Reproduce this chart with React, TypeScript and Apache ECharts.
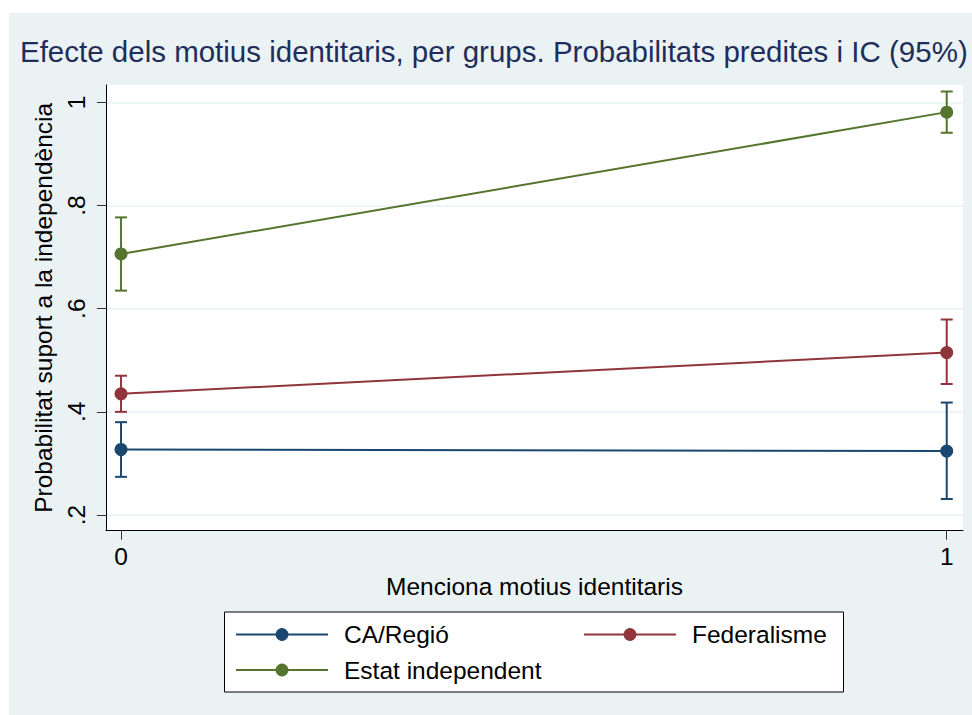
import React, { useEffect, useRef } from "react";
import * as echarts from "echarts";

const xTicks = [0, 1];
const yTicks = [0.2, 0.4, 0.6, 0.8, 1];
const yTickLabels = [".2", ".4", ".6", ".8", "1"];

const groupNames = ["CA/Regió", "Federalisme", "Estat independent"];
const groupColors = ["#1a476f", "#90353b", "#55752f"];
const xValues = [0, 1];
const caMean = [0.327, 0.324];
const caLo = [0.274, 0.231];
const caHi = [0.38, 0.418];
const fedMean = [0.435, 0.515];
const fedLo = [0.4, 0.454];
const fedHi = [0.47, 0.579];
const indMean = [0.706, 0.981];
const indLo = [0.635, 0.941];
const indHi = [0.777, 1.021];

const FONT = "'Liberation Sans', Arial, Helvetica, sans-serif";

export default function App() {
  const ref = useRef<HTMLDivElement>(null);
  useEffect(() => {
    if (!ref.current) return;
    const chart = echarts.init(ref.current, undefined, { renderer: "svg" });
    const means = [caMean, fedMean, indMean];
    const los = [caLo, fedLo, indLo];
    const his = [caHi, fedHi, indHi];

    const series: any[] = [];
    groupNames.forEach((name, gi) => {
      const color = groupColors[gi];
      series.push({
        name: name + " IC",
        type: "custom",
        z: 2,
        silent: true,
        data: xValues.map((x, i) => [x, los[gi][i], his[gi][i]]),
        encode: { x: 0, y: [1, 2] },
        renderItem: (params: any, api: any) => {
          const x = api.value(0);
          const pLo = api.coord([x, api.value(1)]);
          const pHi = api.coord([x, api.value(2)]);
          const w = 6;
          const st = { stroke: color, lineWidth: 2 };
          return {
            type: "group",
            children: [
              { type: "line", shape: { x1: pLo[0], y1: pLo[1], x2: pHi[0], y2: pHi[1] }, style: st },
              { type: "line", shape: { x1: pHi[0] - w, y1: pHi[1], x2: pHi[0] + w, y2: pHi[1] }, style: st },
              { type: "line", shape: { x1: pLo[0] - w, y1: pLo[1], x2: pLo[0] + w, y2: pLo[1] }, style: st },
            ],
          };
        },
      });
    });
    groupNames.forEach((name, gi) => {
      const color = groupColors[gi];
      series.push({
        name,
        type: "line",
        z: 3,
        data: xValues.map((x, i) => [x, means[gi][i]]),
        symbol: "circle",
        symbolSize: 13,
        showSymbol: true,
        lineStyle: { color, width: 2 },
        itemStyle: { color },
      });
    });

    const legendCommon = {
      orient: "vertical",
      top: 622 - 13,
      padding: 0,
      itemGap: 10.5,
      itemWidth: 92,
      itemHeight: 16,
      z: 5,
      formatter: "{a|{name}}",
      textStyle: {
        color: "#000",
        fontFamily: FONT,
        fontSize: 24.5,
        rich: { a: { padding: [0, 0, 0, 11], fontSize: 24.5, fontFamily: FONT, color: "#000" } },
      },
      selectedMode: false,
    };

    chart.setOption({
      animation: false,
      backgroundColor: "#EAF2F3",
      title: {
        text: "Efecte dels motius identitaris, per grups. Probabilitats predites i IC (95%)",
        left: 11,
        top: 23,
        padding: 0,
        textStyle: { color: "#1f2d5c", fontFamily: FONT, fontSize: 29.5, fontWeight: "normal" },
      },
      graphic: [
        {
          type: "rect",
          z: 1,
          shape: { x: 224.5 - 9, y: 612 - 13, width: 619, height: 80 },
          style: { fill: "#fff", stroke: "#000", lineWidth: 1 },
        },
      ],
      legend: [
        { ...legendCommon, left: 235 - 9, data: [groupNames[0], groupNames[2]] },
        { ...legendCommon, left: 583 - 9, data: [groupNames[1]] },
      ],
      grid: {
        left: 97,
        top: 72,
        right: 9,
        bottom: 184.3,
        show: true,
        backgroundColor: "#fff",
        borderWidth: 0,
      },
      xAxis: {
        type: "value",
        min: -0.0182,
        max: 1.0197,
        name: "Menciona motius identitaris",
        nameLocation: "middle",
        nameGap: 42,
        nameTextStyle: { color: "#000", fontFamily: FONT, fontSize: 24.5 },
        axisLine: { show: true, onZero: false, lineStyle: { color: "#000", width: 1 } },
        axisTick: { show: true, length: 9, customValues: xTicks, lineStyle: { color: "#333", width: 1 } },
        axisLabel: {
          customValues: xTicks,
          margin: 13,
          color: "#000",
          fontFamily: FONT,
          fontSize: 24.5,
          formatter: (v: number) => String(v),
        },
        splitLine: { show: false },
      },
      yAxis: {
        type: "value",
        min: 0.1696,
        max: 1.0336,
        name: "Probabilitat suport a la independència",
        nameLocation: "middle",
        nameGap: 43,
        nameRotate: 90,
        nameTextStyle: { color: "#000", fontFamily: FONT, fontSize: 24.5 },
        axisLine: { show: true, onZero: false, lineStyle: { color: "#000", width: 1 } },
        axisTick: { show: true, length: 9, customValues: yTicks, lineStyle: { color: "#333", width: 1 } },
        axisLabel: {
          customValues: yTicks,
          rotate: 90,
          margin: 17,
          color: "#000",
          fontFamily: FONT,
          fontSize: 24.5,
          formatter: (v: number) => {
            const idx = yTicks.findIndex((t) => Math.abs(t - v) < 1e-9);
            return idx >= 0 ? yTickLabels[idx] : "";
          },
        },
        splitLine: { show: true, lineStyle: { color: "#EAF2F3", width: 1.5 } },
      },
      series,
    });
    return () => chart.dispose();
  }, []);

  return (
    <div style={{ position: "absolute", left: 0, top: 0, width: 972, height: 715, background: "#fff" }}>
      <div ref={ref} style={{ position: "absolute", left: 9, top: 13, width: 963, height: 702 }} />
    </div>
  );
}
